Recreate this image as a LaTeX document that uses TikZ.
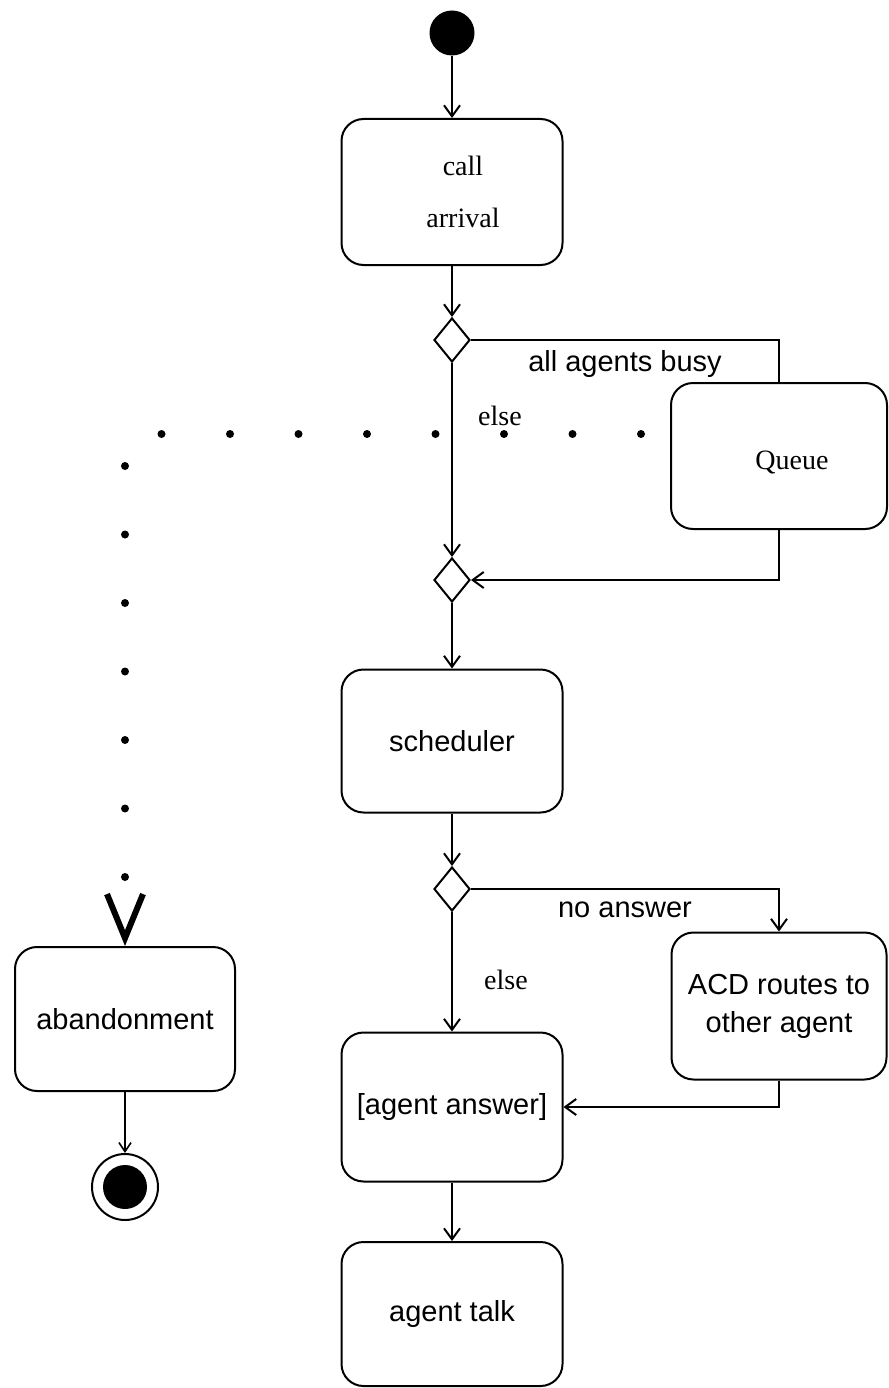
\documentclass[tikz,border=0pt]{standalone}
\usepackage{fontspec}
\setmainfont{Liberation Serif}
\setsansfont{Liberation Sans}
\usetikzlibrary{arrows.meta,shapes.geometric}
\begin{document}
\begin{tikzpicture}[x=1pt,y=-1pt,
  act/.style={draw,line width=2pt,rounded corners=22pt,inner sep=0pt,minimum width=221pt,minimum height=146pt,align=center},
  dec/.style={draw,diamond,line width=2pt,inner sep=0pt,minimum width=36pt,minimum height=44pt},
  flow/.style={line width=2pt,-{Straight Barb[length=11pt,width=16pt,line width=2pt]}},
  plain/.style={line width=2pt},
  serif/.style={font=\fontsize{28}{34}\selectfont\rmfamily},
  sans/.style={font=\fontsize{29}{38}\selectfont\sffamily},
  startnode/.style={circle,fill=black,inner sep=0pt,minimum size=45pt},
]
\useasboundingbox (0,0) rectangle (888,1388);

% nodes
\node[startnode] (start) at (452,33) {};
\node[act,label={[serif,align=center,xshift=11pt,font=\fontsize{28}{52}\selectfont\rmfamily]center:call\\arrival}] (call) at (452,192) {};
\node[dec] (d1) at (452,340) {};
\node[act,minimum width=216pt,label={[serif,xshift=13pt,yshift=-6pt]center:Queue}] (queue) at (779,456) {};
\node[dec] (d2) at (452,580) {};
\node[act,sans,minimum height=143pt] (sched) at (452,741) {scheduler};
\node[dec] (d3) at (452,889) {};
\node[act,sans,minimum width=215pt,minimum height=147pt] (acd) at (779,1006) {ACD routes to\\other agent};
\node[act,sans,minimum height=149pt] (answer) at (452,1107) {[agent answer]};
\node[act,sans,minimum height=144pt] (talk) at (452,1314) {agent talk};
\node[act,sans,minimum width=220pt,minimum height=144pt] (aband) at (125,1019) {abandonment};
\node[circle,draw,line width=2pt,inner sep=0pt,minimum size=66pt] (final) at (125,1187) {};
\node[circle,fill=black,inner sep=0pt,minimum size=44pt] (finalin) at (final.center) {};

% labels
\node[sans] (lbusy) at (625,364) {all agents busy};
\node[serif] (lelse1) at (500,416) {else};
\node[sans] (lnoans) at (625,910) {no answer};
\node[serif] (lelse2) at (506,980) {else};

% connectors
\draw[flow] (start) -- (call);
\draw[flow] (call) -- (d1);
\draw[plain] (d1.east) -| (queue.north);
\draw[flow] (d1) -- (d2);
\draw[flow] (queue.south) |- (d2.east);
\draw[flow] (d2) -- (sched);
\draw[flow] (sched) -- (d3);
\draw[flow] (d3.east) -| (acd.north);
\draw[flow] (d3) -- (answer);
\draw[flow] (acd.south) |- (answer.east);
\draw[flow] (answer) -- (talk);
\draw[line width=1.6pt,-{Straight Barb[length=9pt,width=12pt,line width=1.6pt]}] (aband) -- (final);

% dotted abandonment path
\coordinate (qd) at (671,434);
\draw[line width=8pt,line cap=round,dash pattern=on 0pt off 68.5pt,dash phase=38.5pt,
  -{Straight Barb[length=44pt,width=36pt,line width=6pt]}] (qd) -| (aband.north);
\end{tikzpicture}
\end{document}
